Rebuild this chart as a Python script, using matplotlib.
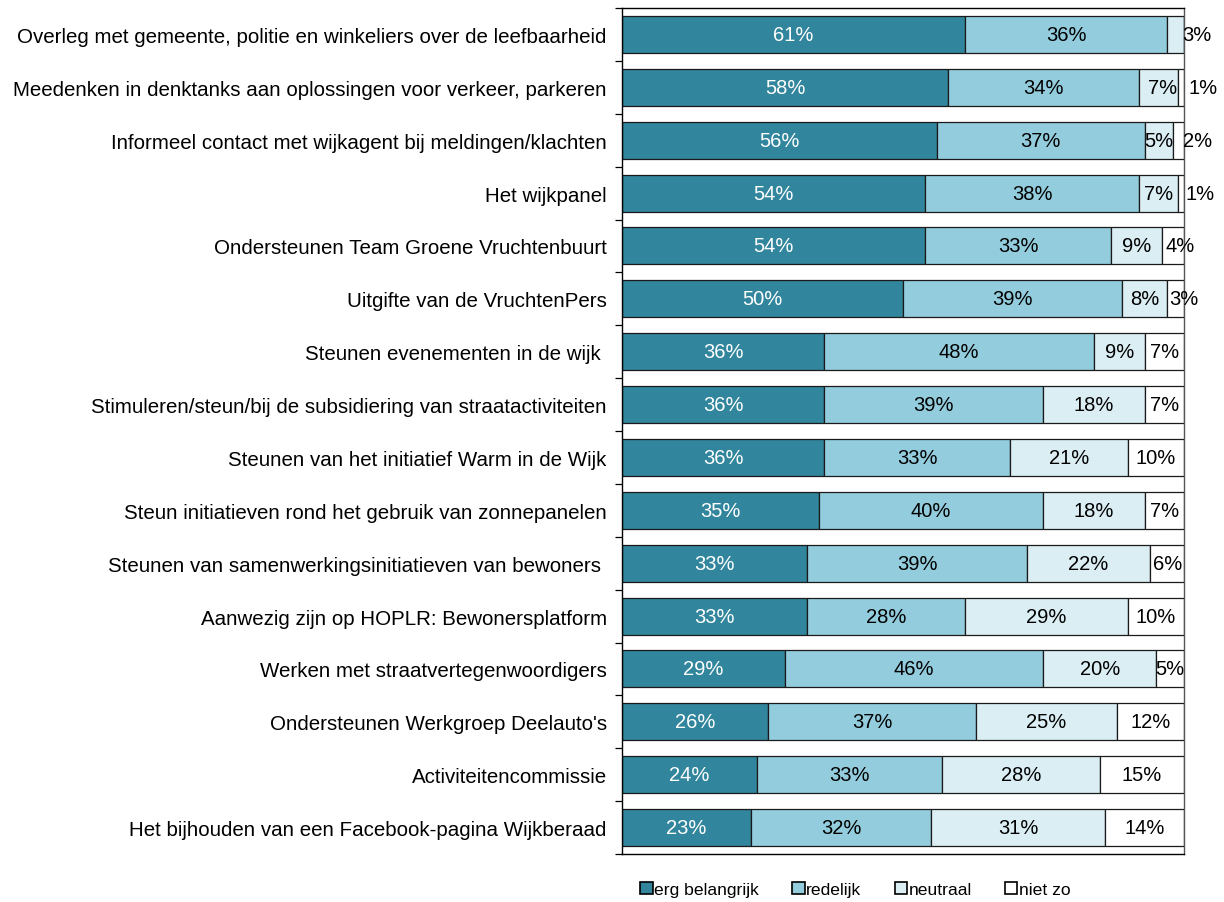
import numpy as np
import matplotlib.pyplot as plt

plt.rcParams['font.family'] = ['Liberation Sans', 'DejaVu Sans']

# Categories, top to bottom
categories = [
    'Overleg met gemeente, politie en winkeliers over de leefbaarheid',
    'Meedenken in denktanks aan oplossingen voor verkeer, parkeren',
    'Informeel contact met wijkagent bij meldingen/klachten',
    'Het wijkpanel',
    'Ondersteunen Team Groene Vruchtenbuurt',
    'Uitgifte van de VruchtenPers',
    'Steunen evenementen in de wijk ',
    'Stimuleren/steun/bij de subsidiering van straatactiviteiten',
    'Steunen van het initiatief Warm in de Wijk',
    'Steun initiatieven rond het gebruik van zonnepanelen',
    'Steunen van samenwerkingsinitiatieven van bewoners ',
    'Aanwezig zijn op HOPLR: Bewonersplatform',
    'Werken met straatvertegenwoordigers',
    "Ondersteunen Werkgroep Deelauto's",
    'Activiteitencommissie',
    'Het bijhouden van een Facebook-pagina Wijkberaad',
]

erg_belangrijk = [61, 58, 56, 54, 54, 50, 36, 36, 36, 35, 33, 33, 29, 26, 24, 23]
redelijk = [36, 34, 37, 38, 33, 39, 48, 39, 33, 40, 39, 28, 46, 37, 33, 32]
neutraal = [3, 7, 5, 7, 9, 8, 9, 18, 21, 18, 22, 29, 20, 25, 28, 31]
niet_zo = [0, 1, 2, 1, 4, 3, 7, 7, 10, 7, 6, 10, 5, 12, 15, 14]

series_names = ['erg belangrijk', 'redelijk', 'neutraal', 'niet zo']
colors = ['#31859C', '#93CDDD', '#DBEEF4', '#FFFFFF']
text_colors = ['white', 'black', 'black', 'black']

# label nudges (in pixels) for narrow segments, where Excel moved the label
label_shift = {(0, 2): 21, (1, 3): 22, (2, 3): 19, (3, 3): 19,
               (4, 3): 7, (5, 3): 8, (1, 2): 4}

fig = plt.figure(figsize=(12.24, 9.03), dpi=100)
ax = fig.add_axes([622 / 1224, 1 - 855 / 903, 562 / 1224, 846 / 903])

data = np.array([erg_belangrijk, redelijk, neutraal, niet_zo], dtype=float)
pct = data / data.sum(axis=0) * 100
y = np.arange(len(categories))
left = np.zeros(len(categories))

for s, name in enumerate(series_names):
    vals = pct[s]
    ax.barh(y, vals, left=left, height=0.7, color=colors[s],
            edgecolor='#1a1a1a', linewidth=0.9, label=name)
    for i, v in enumerate(data[s]):
        if v <= 0:
            continue
        cx = left[i] + vals[i] / 2
        dx = label_shift.get((i, s), 0)
        ax.annotate(f'{int(v)}%', (cx, y[i]), xytext=(dx * 0.72, 0),
                    textcoords='offset points', ha='center', va='center',
                    fontsize=14.5, color=text_colors[s])
    left += vals

ax.set_xlim(0, 100)
ax.set_ylim(len(categories) - 0.5, -0.5)
ax.set_yticks(y)
ax.set_yticklabels(categories, fontsize=14.8)
ax.tick_params(axis='y', which='major', length=0, pad=11)
ax.set_yticks(np.arange(len(categories) + 1) - 0.5, minor=True)
ax.tick_params(axis='y', which='minor', length=5, width=0.9, direction='out')
ax.set_xticks([])
for side in ['top', 'right', 'bottom', 'left']:
    ax.spines[side].set_linewidth(1.0)
ax.spines['right'].set_color('#555555')

leg = fig.legend(loc='lower center', bbox_to_anchor=(0.699, -0.012), ncol=4,
                 frameon=False, fontsize=12.6, handlelength=0.7,
                 handleheight=0.7, handletextpad=0.1, columnspacing=1.9)
for h in leg.legend_handles:
    h.set_edgecolor('black')
    h.set_linewidth(1.2)

fig.savefig('out.png', dpi=100)
